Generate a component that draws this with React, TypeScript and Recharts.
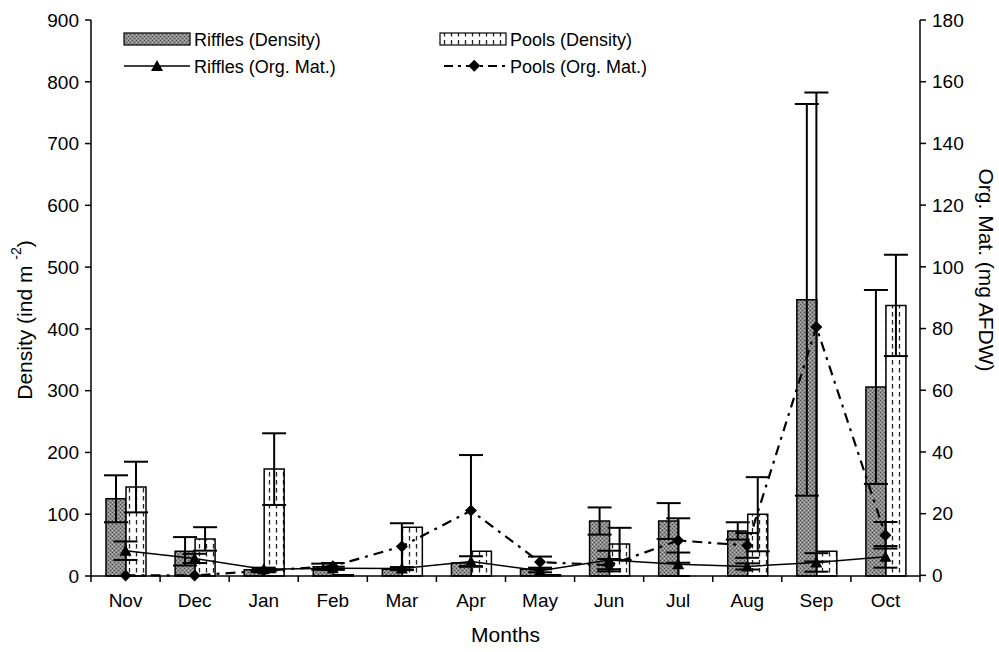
import {
  ComposedChart,
  Bar,
  Line,
  XAxis,
  YAxis,
  ErrorBar,
} from 'recharts'

const MONTHS = ['Nov', 'Dec', 'Jan', 'Feb', 'Mar', 'Apr', 'May', 'Jun', 'Jul', 'Aug', 'Sep', 'Oct']

// density (ind m-2), left axis
const RIFFLES_DENSITY = [125, 40, 10, 15, 11, 21, 11, 89, 89, 73, 447, 306]
const RIFFLES_DENSITY_ERR = [38, 23, null, 5, null, null, null, 22, 29, 14, 317, 157]
const POOLS_DENSITY = [144, 60, 173, 2, 79, 40, 2, 52, 0, 100, 40, 438]
const POOLS_DENSITY_ERR = [41, 19, 58, null, null, null, null, 26, null, 60, null, 82]

// organic matter (mg AFDW), right axis
const RIFFLES_OM = [8, 5.5, 2, 2.3, 2.2, 4.5, 1.5, 5, 3.6, 2.9, 4.2, 6]
const RIFFLES_OM_ERR = [3, 1.5, 0.5, 0.5, 0.5, 1.7, 0.5, 3, 3.8, 1, 3, 3.5]
const POOLS_OM = [0, 0, 1.5, 3, 9.4, 21, 4.3, 3.3, 11.3, 9.7, 80.5, 13]
const POOLS_OM_ERR = [null, null, 0.5, 1, 7.5, 18, 1.8, 2, 7.2, 4, 76, 4.3]

const DENSITY_TICKS = [0, 100, 200, 300, 400, 500, 600, 700, 800, 900]
const OM_TICKS = [0, 20, 40, 60, 80, 100, 120, 140, 160, 180]

const data = MONTHS.map((month, i) => ({
  month,
  rifDen: RIFFLES_DENSITY[i],
  rifDenErr: RIFFLES_DENSITY_ERR[i],
  poolDen: POOLS_DENSITY[i],
  poolDenErr: POOLS_DENSITY_ERR[i],
  rifOm: RIFFLES_OM[i],
  rifOmErr: RIFFLES_OM_ERR[i],
  poolOm: POOLS_OM[i],
  poolOmErr: POOLS_OM_ERR[i],
}))

const W = 999
const H = 652
const LEFT_W = 91
const RIGHT_W = 79
const TOP = 20
const X_H = 76
const BAND = (W - LEFT_W - RIGHT_W) / MONTHS.length
const FONT = '"Liberation Sans", Arial, sans-serif'
const tickStyle = { fill: '#000', fontSize: 19, fontFamily: FONT }
const titleStyle = { fontSize: 21, fontFamily: FONT, fill: '#000' }

function Patterns() {
  return (
    <defs>
      <pattern id="rifPat" width="4" height="4" patternUnits="userSpaceOnUse">
        <rect width="4" height="4" fill="#8c8c8c" />
        <rect x="0" y="0" width="1" height="1" fill="#4a4a4a" />
        <rect x="2" y="2" width="1" height="1" fill="#4a4a4a" />
        <rect x="2" y="0" width="1" height="1" fill="#b8b8b8" />
        <rect x="0" y="2" width="1" height="1" fill="#b8b8b8" />
      </pattern>
      <pattern id="poolPat" width="7" height="8" patternUnits="userSpaceOnUse">
        <rect width="7" height="8" fill="#fff" />
        <line x1="3.5" y1="0" x2="3.5" y2="4.5" stroke="#222" strokeWidth="1.3" />
      </pattern>
    </defs>
  )
}

function MonthTick(props: any) {
  const { x, y, payload, index } = props
  const last = index === MONTHS.length - 1
  return (
    <g>
      <line x1={x - BAND / 2} y1={y - 8} x2={x - BAND / 2} y2={y - 2} stroke="#000" strokeWidth={1.5} />
      {last && <line x1={x + BAND / 2} y1={y - 8} x2={x + BAND / 2} y2={y - 2} stroke="#000" strokeWidth={1.5} />}
      <text x={x} y={y + 23} textAnchor="middle" style={tickStyle}>
        {payload.value}
      </text>
    </g>
  )
}

function Triangle(props: any) {
  const { cx, cy, index } = props
  if (cx == null || cy == null) return <g key={`t${index}`} />
  return <path key={`t${index}`} d={`M${cx},${cy - 6} L${cx + 6},${cy + 5} L${cx - 6},${cy + 5} Z`} fill="#000" />
}

function Diamond(props: any) {
  const { cx, cy, index } = props
  if (cx == null || cy == null) return <g key={`d${index}`} />
  return <path key={`d${index}`} d={`M${cx},${cy - 6} L${cx + 6},${cy} L${cx},${cy + 6} L${cx - 6},${cy} Z`} fill="#000" />
}

function LeftTitle(props: any) {
  const { viewBox } = props
  const cx = viewBox.x + 24
  const cy = viewBox.y + viewBox.height / 2 + 22
  return (
    <text transform={`rotate(-90 ${cx} ${cy})`} x={cx} y={cy} textAnchor="middle" dominantBaseline="central" style={titleStyle}>
      Density (ind m <tspan dy={-8} fontSize={14}>-2</tspan><tspan dy={8}>)</tspan>
    </text>
  )
}

function RightTitle(props: any) {
  const { viewBox } = props
  const cx = viewBox.x + 66
  const cy = viewBox.y + viewBox.height / 2 - 28
  return (
    <text transform={`rotate(90 ${cx} ${cy})`} x={cx} y={cy} textAnchor="middle" dominantBaseline="central" style={titleStyle}>
      Org. Mat. (mg AFDW)
    </text>
  )
}

function LegendOverlay() {
  const txt = { fontSize: 18, fontFamily: FONT, fill: '#000' }
  return (
    <svg width={W} height={H} style={{ position: 'absolute', left: 0, top: 0, pointerEvents: 'none' }}>
      <rect x={124} y={33} width={66} height={12} fill="url(#rifPat)" stroke="#000" strokeWidth={1.2} />
      <text x={194} y={45.5} style={txt}>Riffles (Density)</text>
      <rect x={440} y={33} width={66} height={12} fill="url(#poolPat)" stroke="#000" strokeWidth={1.2} />
      <text x={510} y={45.5} style={txt}>Pools (Density)</text>

      <line x1={124} y1={66} x2={190} y2={66} stroke="#000" strokeWidth={1.5} />
      <path d="M157,60 L163,71 L151,71 Z" fill="#000" />
      <text x={194} y={72.5} style={txt}>Riffles (Org. Mat.)</text>
      <line x1={444} y1={66} x2={506} y2={66} stroke="#000" strokeWidth={2} strokeDasharray="9 5 3 5" />
      <rect x={470} y={61.5} width={8.5} height={8.5} transform="rotate(45 474.25 65.75)" fill="#000" />
      <text x={510} y={72.5} style={txt}>Pools (Org. Mat.)</text>
    </svg>
  )
}

export default function App() {
  return (
    <div style={{ position: 'fixed', left: 0, top: 0, width: W, height: H, background: '#fff' }}>
      <ComposedChart
        width={W}
        height={H}
        data={data}
        margin={{ top: TOP, right: 0, bottom: 0, left: 0 }}
        barGap={0}
      >
        <Patterns />
        <XAxis
          dataKey="month"
          height={X_H}
          tickLine={false}
          axisLine={{ stroke: '#000', strokeWidth: 1.5 }}
          tick={<MonthTick />}
          interval={0}
          label={{ value: 'Months', position: 'insideBottom', offset: 10, style: titleStyle }}
        />
        <YAxis
          yAxisId="left"
          width={LEFT_W}
          domain={[0, 900]}
          ticks={DENSITY_TICKS}
          interval={0}
          tick={tickStyle}
          tickSize={6}
          tickMargin={6}
          axisLine={{ stroke: '#000', strokeWidth: 1.5 }}
          tickLine={{ stroke: '#000', strokeWidth: 1.5 }}
          label={<LeftTitle />}
        />
        <YAxis
          yAxisId="right"
          orientation="right"
          width={RIGHT_W}
          domain={[0, 180]}
          ticks={OM_TICKS}
          interval={0}
          tick={tickStyle}
          tickSize={6}
          tickMargin={6}
          axisLine={{ stroke: '#000', strokeWidth: 1.5 }}
          tickLine={{ stroke: '#000', strokeWidth: 1.5 }}
          label={<RightTitle />}
        />
        <Bar yAxisId="left" dataKey="rifDen" barSize={20} fill="url(#rifPat)" stroke="#000" strokeWidth={1.5} isAnimationActive={false}>
          <ErrorBar dataKey="rifDenErr" width={12} stroke="#000" strokeWidth={2} />
        </Bar>
        <Bar yAxisId="left" dataKey="poolDen" barSize={20} fill="url(#poolPat)" stroke="#000" strokeWidth={1.5} isAnimationActive={false}>
          <ErrorBar dataKey="poolDenErr" width={12} stroke="#000" strokeWidth={2} />
        </Bar>
        <Line yAxisId="right" dataKey="rifOm" stroke="#000" strokeWidth={1.5} dot={Triangle} activeDot={false} isAnimationActive={false}>
          <ErrorBar dataKey="rifOmErr" width={12} stroke="#000" strokeWidth={2} />
        </Line>
        <Line yAxisId="right" dataKey="poolOm" stroke="#000" strokeWidth={2.2} strokeDasharray="10 6 3 6" dot={Diamond} activeDot={false} isAnimationActive={false}>
          <ErrorBar dataKey="poolOmErr" width={12} stroke="#000" strokeWidth={2} />
        </Line>
      </ComposedChart>
      <LegendOverlay />
    </div>
  )
}
